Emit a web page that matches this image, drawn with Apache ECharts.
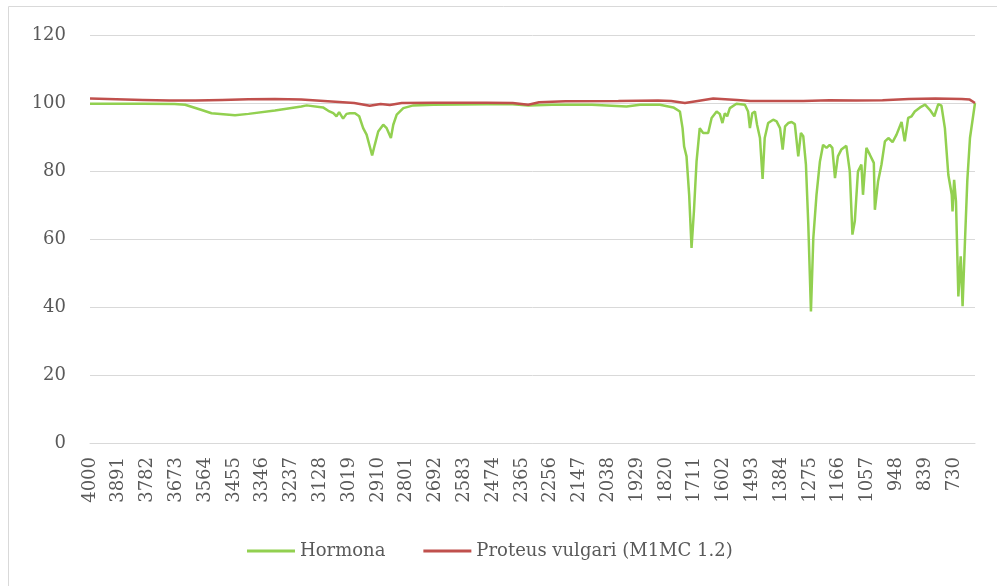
<!DOCTYPE html>
<html>
<head>
<meta charset="utf-8">
<script src="https://cdn.jsdelivr.net/npm/echarts@6/dist/echarts.min.js"></script>
<style>
  html, body { margin: 0; padding: 0; background: #fff; }
  #chart { width: 997px; height: 586px; }
</style>
</head>
<body>
<div id="chart"></div>
<script>
// tick labels shown on the wavenumber axis
var tickLabels = [4000, 3891, 3782, 3673, 3564, 3455, 3346, 3237, 3128, 3019, 2910, 2801,
  2692, 2583, 2474, 2365, 2256, 2147, 2038, 1929, 1820, 1711, 1602, 1493, 1384, 1275,
  1166, 1057, 948, 839, 730];

// Hormona (green)
var greenWn = [4000, 3800, 3680, 3640, 3580, 3540, 3451, 3400, 3300, 3200, 3180, 3118, 3098, 3079,
  3067, 3057, 3042, 3029, 3016, 2997, 2981, 2966, 2953, 2941, 2932, 2922, 2909, 2890, 2877,
  2861, 2852, 2839, 2814, 2776, 2700, 2500, 2400, 2341, 2250, 2100, 1969, 1918, 1843, 1792,
  1767, 1757, 1751, 1742, 1732, 1723, 1714, 1704, 1692, 1679, 1660, 1647, 1628, 1616, 1606,
  1597, 1588, 1578, 1553, 1521, 1509, 1502, 1493, 1483, 1475, 1464, 1454, 1446, 1433, 1414,
  1401, 1388, 1378, 1369, 1357, 1344, 1332, 1319, 1309, 1300, 1290, 1281, 1271, 1262, 1250,
  1237, 1225, 1212, 1200, 1190, 1180, 1169, 1156, 1137, 1124, 1114, 1105, 1093, 1080, 1074,
  1061, 1048, 1033, 1029, 1017, 1004, 991, 978, 962, 947, 928, 916, 903, 890, 878, 858, 839,
  821, 804, 789, 777, 764, 751, 738, 735, 729, 722, 713, 704, 697, 688, 679, 669, 650];
var greenT = [99.8, 99.8, 99.7, 99.5, 98.0, 97.0, 96.4, 96.8, 97.8, 99.0, 99.3, 98.7, 97.7, 97.0,
  96.1, 97.3, 95.4, 96.8, 97.0, 97.0, 96.1, 92.6, 90.7, 87.2, 84.6, 87.7, 91.6, 93.6, 92.6,
  89.7, 93.6, 96.6, 98.5, 99.3, 99.5, 99.6, 99.6, 99.3, 99.5, 99.5, 99.0, 99.5, 99.5, 98.7,
  97.5, 92.6, 87.2, 84.3, 73.0, 57.4, 68.1, 82.8, 92.6, 91.2, 91.2, 95.6, 97.5, 96.8, 94.1,
  97.0, 96.1, 98.5, 99.8, 99.5, 97.5, 92.6, 97.0, 97.5, 93.6, 89.7, 77.7, 89.7, 94.1, 95.1,
  94.6, 92.6, 86.3, 93.1, 94.1, 94.4, 93.8, 84.3, 91.2, 90.2, 81.9, 64.2, 38.7, 60.3, 73.0,
  82.8, 87.7, 86.8, 87.7, 86.8, 77.9, 84.3, 86.3, 87.4, 79.9, 61.3, 65.2, 79.9, 81.9, 73.0,
  86.8, 84.8, 82.4, 68.6, 76.9, 81.9, 88.7, 89.7, 88.5, 90.7, 94.4, 88.7, 95.6, 96.1, 97.5, 98.7, 99.5,
  98.0, 96.1, 99.7, 99.2, 92.6, 78.9, 73.0, 68.1, 77.4, 71.1, 43.1, 54.9, 40.2, 59.3, 77.4, 89.7, 100.0];

// Proteus vulgari (red)
var redWn = [4000, 3900, 3800, 3700, 3600, 3500, 3400, 3300, 3200, 3100, 3000, 2941, 2900, 2865,
  2820, 2700, 2500, 2400, 2341, 2300, 2200, 2000, 1850, 1800, 1748, 1700, 1641, 1550, 1500,
  1400, 1300, 1200, 1100, 1000, 900, 800, 700, 670, 650];
var redT = [101.3, 101.1, 100.9, 100.7, 100.7, 100.9, 101.1, 101.2, 101.0, 100.5, 100.0, 99.2, 99.7, 99.4,
  100.0, 100.1, 100.1, 100.0, 99.5, 100.2, 100.5, 100.6, 100.7, 100.6, 100.0, 100.6, 101.3, 100.9, 100.6,
  100.6, 100.6, 100.8, 100.7, 100.8, 101.2, 101.3, 101.2, 101.0, 100.0];

var textColor = '#595959';
var font = 'DejaVu Serif';

function pairs(xs, ys) {
  return xs.map(function (x, i) { return [x, ys[i]]; });
}

var myChart = echarts.init(document.getElementById('chart'));
myChart.setOption({
  animation: false,
  textStyle: { fontFamily: font },
  graphic: [{
    type: 'rect',
    shape: { x: 8.5, y: 6.5, width: 1000, height: 700 },
    style: { fill: 'none', stroke: '#d9d9d9', lineWidth: 1 },
    silent: true
  }],
  grid: { left: 90, right: 22, top: 35, bottom: 143 },
  legend: {
    left: 242,
    top: 537,
    icon: 'rect',
    itemWidth: 48,
    itemHeight: 3,
    itemGap: 38,
    textStyle: { color: textColor, fontSize: 18, fontFamily: font },
    data: ['Hormona', 'Proteus vulgari (M1MC 1.2)']
  },
  xAxis: {
    type: 'value',
    inverse: true,
    min: 650,
    max: 4000,
    axisLine: { show: true, lineStyle: { color: '#d9d9d9', width: 1 } },
    axisTick: { show: false, customValues: tickLabels },
    splitLine: { show: false },
    axisLabel: {
      customValues: tickLabels,
      formatter: function (v) { return String(v); },
      rotate: 90,
      margin: 14,
      color: textColor,
      fontSize: 18,
      fontFamily: font
    }
  },
  yAxis: {
    type: 'value',
    min: 0,
    max: 120,
    interval: 20,
    axisLine: { show: false },
    axisTick: { show: false },
    splitLine: { lineStyle: { color: '#d9d9d9', width: 1 } },
    axisLabel: { margin: 24, color: textColor, fontSize: 18, fontFamily: font }
  },
  series: [
    {
      name: 'Hormona',
      type: 'line',
      symbol: 'none',
      data: pairs(greenWn, greenT),
      itemStyle: { color: '#92D050' },
      lineStyle: { color: '#92D050', width: 2.5 }
    },
    {
      name: 'Proteus vulgari (M1MC 1.2)',
      type: 'line',
      symbol: 'none',
      data: pairs(redWn, redT),
      itemStyle: { color: '#C0504D' },
      lineStyle: { color: '#C0504D', width: 2.5 }
    }
  ]
});
window.addEventListener('resize', function () { myChart.resize(); });
</script>
</body>
</html>
